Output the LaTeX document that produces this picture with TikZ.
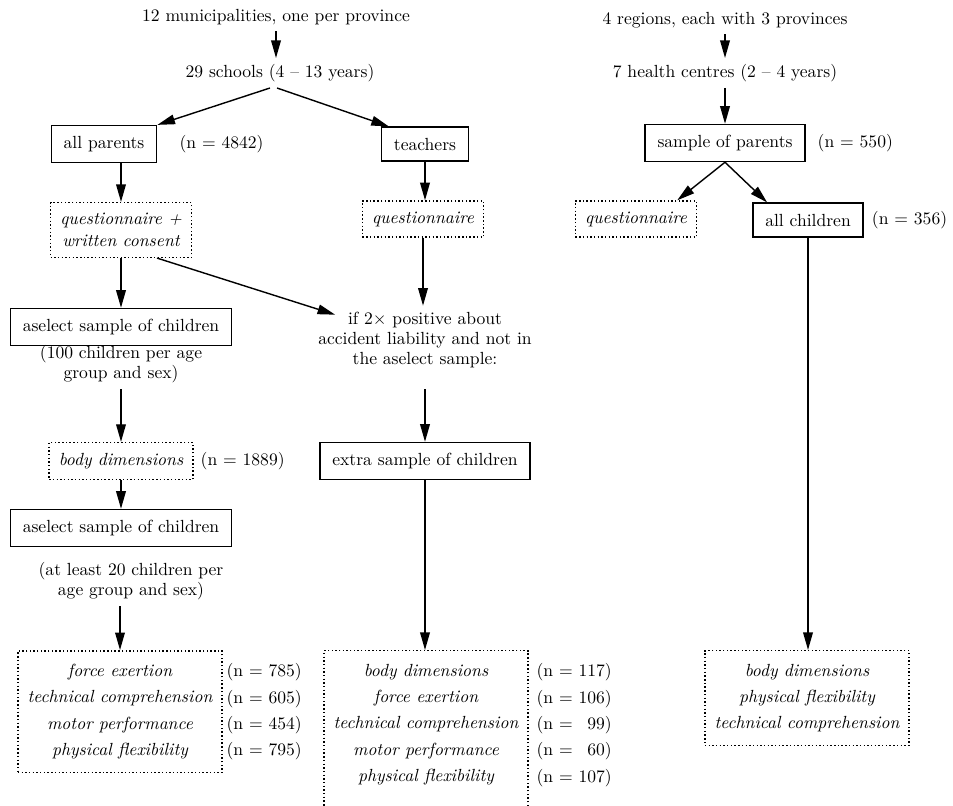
\documentclass[tikz,border=0pt]{standalone}
\usepackage{tikz}
\usetikzlibrary{positioning, arrows.meta}
\tikzstyle{arrow} = [thick,-{Triangle[length=10pt,width=5.5pt]}]
\tikzstyle{solidbox} = [rectangle, draw=black, line width=0.9pt, inner xsep=7pt, inner ysep=6pt, text centered]
\tikzstyle{dotbox} = [rectangle, draw=black, line width=0.8pt, dash pattern=on 0.8pt off 1.3pt, inner xsep=5.5pt, inner ysep=6pt, align=center, font=\itshape\fontsize{10}{12.5}\selectfont]
\tikzstyle{measbox} = [dotbox, inner ysep=7.5pt, font=\itshape\fontsize{10}{15}\selectfont]
\tikzstyle{note} = [align=center, font=\fontsize{10}{11.5}\selectfont]
\tikzstyle{num} = [inner sep=1pt]
\tikzstyle{numcol} = [align=left, inner xsep=2pt, inner ysep=7.5pt, font=\fontsize{10}{15}\selectfont]

\begin{document}
\begin{tikzpicture}[node distance=1cm]
\useasboundingbox (0,0) rectangle (19.06,-16.10);

\node (munic) at (5.52,-0.34) {12 municipalities, one per province};
\node (schools) [below of=munic, yshift=-0.12cm, xshift=0.08cm] {29 schools (4 -- 13 years)};

\node (allpar) [solidbox, below of=schools, yshift=-0.42cm, xshift=-3.52cm] {all parents};
\node (nall) [num, right=0.4cm of allpar] {(n = 4842)};
\node (teach) [solidbox, below of=schools, yshift=-0.42cm, xshift=2.9cm] {teachers};

\node (quest1) [dotbox, below of=allpar, yshift=-0.72cm, xshift=0.34cm] {questionnaire +\\written consent};
\node (quest2) [dotbox, below of=teach, yshift=-0.5cm, xshift=-0.04cm] {questionnaire};

\node (asel1) [solidbox, below of=quest1, yshift=-0.94cm, xshift=0cm] {aselect sample of children};
\node (note1) [note, below of=asel1, yshift=0.26cm, xshift=0cm] {(100 children per age\\group and sex)};
\node (body1) [dotbox, below of=note1, yshift=-0.94cm, xshift=0cm] {body dimensions};
\node (nbody) [num, right=0.1cm of body1] {(n = 1889)};
\node (asel2) [solidbox, below of=body1, yshift=-0.34cm, xshift=0cm] {aselect sample of children};
\node (note2) [note, below of=asel2, yshift=-0.06cm, xshift=0.2cm] {(at least 20 children per\\age group and sex)};
\node (meas1) [measbox, below of=note2, yshift=-1.61cm, xshift=-0.22cm] {force exertion\\technical comprehension\\motor performance\\physical flexibility};
\node (nmeas1) [numcol, anchor=north west] at (meas1.north east) {(n = 785)\\(n = 605)\\(n = 454)\\(n = 795)};

\node (if2x) [note, below of=quest2, yshift=-1.42cm, xshift=0.04cm] {if 2$\times$ positive about\\accident liability and not in\\the aselect sample:};
\node (extra) [solidbox, below of=if2x, yshift=-1.42cm, xshift=0cm] {extra sample of children};
\node (meas2) [measbox, below of=extra, anchor=north, text depth=0.5cm, yshift=-2.78cm, xshift=0.02cm] {body dimensions\\force exertion\\technical comprehension\\motor performance\\physical flexibility};
\node (nmeas2) [numcol, anchor=north west, xshift=0.08cm] at (meas2.north east) {(n = 117)\\(n = 106)\\(n = \phantom{1}99)\\(n = \phantom{1}60)\\(n = 107)};

\node (top2) at (14.5,-0.4) {4 regions, each with 3 provinces};
\node (health) [below of=top2, yshift=-0.06cm, xshift=0cm] {7 health centres (2 -- 4 years)};
\node (sampar) [solidbox, below of=health, yshift=-0.4cm, xshift=0cm] {sample of parents};
\node (nsamp) [num, right=0.2cm of sampar] {(n = 550)};
\node (quest3) [dotbox, below of=sampar, yshift=-0.52cm, xshift=-1.78cm] {questionnaire};
\node (allch) [solidbox, below of=sampar, yshift=-0.54cm, xshift=1.66cm] {all children};
\node (nallch) [num, right=0.12cm of allch] {(n = 356)};
\node (meas3) [measbox, below of=allch, yshift=-8.56cm, xshift=-0.02cm] {body dimensions\\physical flexibility\\technical comprehension};

\draw [arrow] (munic.south) -- (munic.south |- schools.north);
\draw [arrow] ([xshift=-0.2cm]schools.south) -- (allpar.north east);
\draw [arrow] ([xshift=-0.06cm]schools.south) -- ([xshift=0.16cm]teach.north west);

\draw [arrow] (quest1 |- allpar.south) -- (quest1);
\draw [arrow] (teach) -- (teach |- quest2.north);
\draw [arrow] (quest1) -- (quest1 |- asel1.north);
\draw [arrow] ([xshift=0.72cm]quest1.south) -- ([xshift=0.46cm, yshift=-0.18cm]if2x.north west);
\draw [arrow] (quest2) -- (quest2 |- if2x.north);

\draw [arrow] (note1.south -| body1) -- (body1);
\draw [arrow] (body1) -- (body1 |- asel2.north);
\draw [arrow] (note2.south -| meas1) -- (meas1);

\draw [arrow] ([yshift=-0.3cm]if2x.south) -- (extra);
\draw [arrow] (extra) -- (extra |- meas2.north);

\draw [arrow] (top2.south) -- (top2.south |- health.north);
\draw [arrow] (health) -- (sampar);
\draw [arrow] (sampar.south) -- ([xshift=-0.4cm]quest3.north east);
\draw [arrow] (sampar.south) -- ([xshift=0.3cm]allch.north west);
\draw [arrow] (allch) -- (allch |- meas3.north);
\end{tikzpicture}
\end{document}
